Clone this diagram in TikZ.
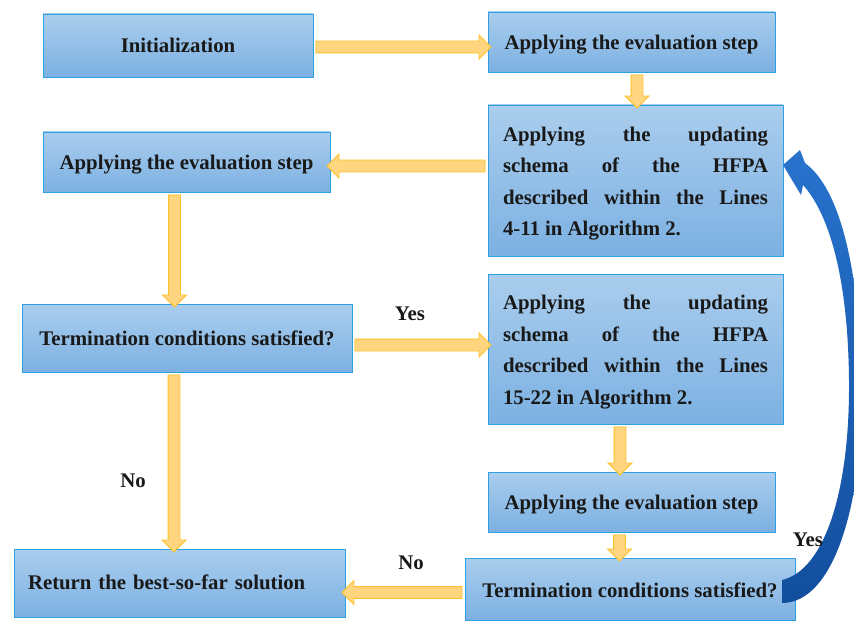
\documentclass[tikz,border=0pt]{standalone}
\usepackage{fontspec}
\setmainfont{Liberation Serif}
\usetikzlibrary{shapes.arrows,calc}
\definecolor{boxtop}{RGB}{170,205,237}
\definecolor{boxbot}{RGB}{124,177,226}
\definecolor{boxedge}{RGB}{45,160,225}
\definecolor{yfill}{RGB}{255,213,128}
\definecolor{yedge}{RGB}{255,192,40}
\definecolor{btop}{RGB}{40,115,205}
\definecolor{bbot}{RGB}{18,78,158}
\definecolor{txt}{RGB}{25,25,25}
\newcommand\fs{\fontsize{20.8}{31.5}\selectfont\bfseries}
\newcommand\para[1]{\raisebox{-3pt}[\height][\depth]{\parbox{265pt}{\fs\baselineskip=31.5pt #1}}}
\tikzset{
  box/.style={draw=boxedge, line width=0.9pt, top color=boxtop, bottom color=boxbot,
    inner sep=0pt, outer sep=0pt, font=\fs, text=txt, align=center},
  oneline/.style={text height=15pt, text depth=0pt},
  yarr/.style={single arrow, draw=yedge, fill=yfill, line width=0.9pt,
    inner xsep=0pt, inner ysep=5.5pt, outer sep=0pt,
    single arrow head extend=6pt, single arrow tip angle=90},
  lbl/.style={font=\fs, text=txt}
}
\newcommand\barrow[2]{\path let \p1=#1, \p2=#2,
  \n1={veclen(\x2-\x1,\y2-\y1)}, \n2={atan2(\y2-\y1,\x2-\x1)} in
  node[yarr, minimum height=\n1, rotate=\n2] at ($(\p1)!0.5!(\p2)$) {};}
\begin{document}
\begin{tikzpicture}[x=1pt,y=-1pt]
\useasboundingbox (0,0) rectangle (854,623);
\fill[white] (0,0) rectangle (854,623);
% boxes
\node[box, oneline, text height=14pt, minimum width=270pt, minimum height=63pt] (b1) at (178,45.5) {Initialization};
\node[box, oneline, minimum width=287pt, minimum height=60pt] (b2) at (631.5,42) {Applying the evaluation step};
\node[box, minimum width=295pt, minimum height=151pt] (b3) at (635.5,180.5)
  {\para{Applying the updating\linebreak schema of the HFPA\linebreak described within the Lines\linebreak 4-11 in Algorithm 2.}};
\node[box, oneline, minimum width=287pt, minimum height=60pt] (b4) at (186.5,162) {Applying the evaluation step};
\node[box, oneline, minimum width=330pt, minimum height=68pt] (b5) at (187,338) {Termination conditions satisfied?};
\node[box, minimum width=295pt, minimum height=150pt] (b6) at (635.5,349)
  {\para{Applying the updating\linebreak schema of the HFPA\linebreak described within the Lines\linebreak 15-22 in Algorithm 2.}};
\node[box, oneline, minimum width=287pt, minimum height=60pt] (b7) at (631.5,502) {Applying the evaluation step};
\node[box, oneline, text height=17pt, minimum width=330pt, minimum height=62pt] (b8) at (630,589) {Termination conditions satisfied?};
\node[box, oneline, text height=13pt, minimum width=331pt, minimum height=68pt, text width=303pt, align=left] (b9) at (179.5,583) {Return the best-so-far solution};
% yellow block arrows
\barrow{($(b1.east)+(0,1.5)$)}{($(b2.west |- b1.east)+(0,1.5)$)}
\barrow{($(b2.south)+(5.5,0)$)}{($(b3.north)+(1.5,0)$)}
\barrow{($(b3.west |- b4.east)+(0,4)$)}{($(b4.east)+(0,4)$)}
\barrow{($(b4.south)+(-12,0)$)}{($(b5.north)+(-12.5,0)$)}
\barrow{($(b5.east)+(0,7)$)}{($(b6.west |- b5.east)+(0,7)$)}
\barrow{($(b5.south)+(-13,0)$)}{($(b9.north)+(-5.5,0)$)}
\barrow{($(b6.south)+(-15.5,0)$)}{($(b7.north)+(-11.5,0)$)}
\barrow{($(b7.south)+(-12,0)$)}{($(b8.north)+(-10.5,0)$)}
\barrow{($(b8.west)+(0,3.5)$)}{($(b9.east |- b8.west)+(0,3.5)$)}
% blue curved arrow
\shade[top color=btop, bottom color=bbot]
  (782,580) .. controls (825,570) and (850,490) .. (849,380)
  .. controls (848,280) and (830,215) .. (803,185)
  -- (801,195) -- (783,165) -- (800,150) -- (805,163)
  .. controls (835,185) and (858,250) .. (862,380)
  .. controls (864,500) and (835,603) .. (782,603) -- cycle;
% labels
\node[lbl] (yes1) at (410,314) {Yes};
\node[lbl] (no1) at (133,481) {No};
\node[lbl] (no2) at (411,563) {No};
\node[lbl] (yes2) at (808,540) {Yes};
\end{tikzpicture}
\end{document}
